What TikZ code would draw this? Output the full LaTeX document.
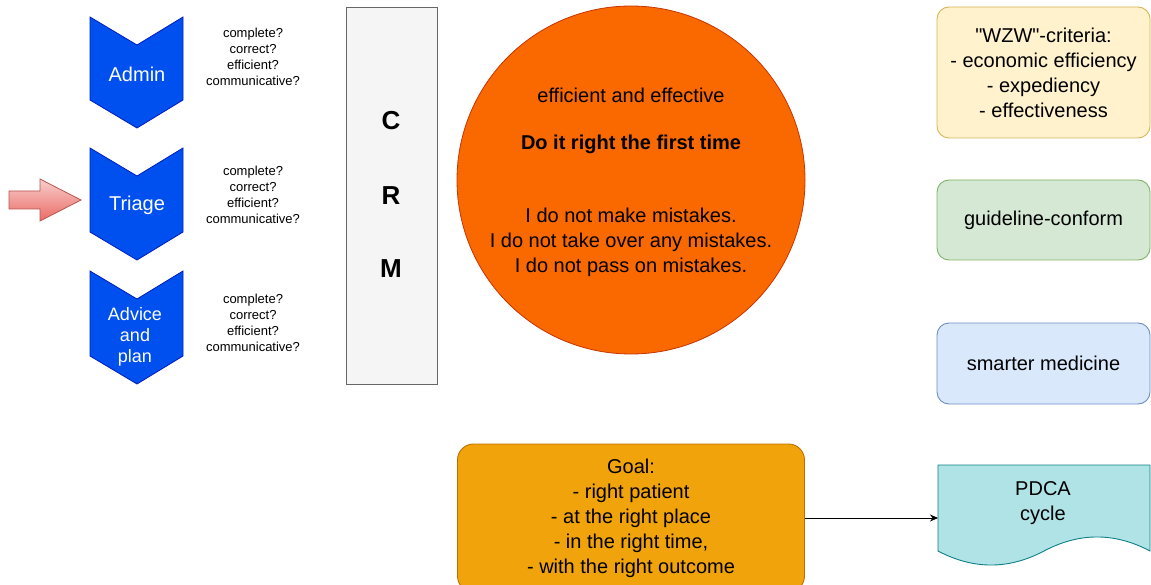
\documentclass[tikz,border=0pt]{standalone}
\usepackage{fontspec}
\setmainfont{Liberation Sans}
\newfontfamily\plainsans{Liberation Sans}
\usetikzlibrary{arrows.meta,shapes.geometric}
\definecolor{chevfill}{HTML}{0050EF}
\definecolor{chevline}{HTML}{001DBC}
\definecolor{redlight}{HTML}{F8CECC}
\definecolor{reddark}{HTML}{EA6B66}
\definecolor{redline}{HTML}{B85450}
\definecolor{crmfill}{HTML}{F5F5F5}
\definecolor{crmline}{HTML}{666666}
\definecolor{circfill}{HTML}{FA6800}
\definecolor{circline}{HTML}{C73500}
\definecolor{yelfill}{HTML}{FFF2CC}
\definecolor{yelline}{HTML}{D6B656}
\definecolor{grnfill}{HTML}{D5E8D4}
\definecolor{grnline}{HTML}{82B366}
\definecolor{blufill}{HTML}{DAE8FC}
\definecolor{bluline}{HTML}{6C8EBF}
\definecolor{goalfill}{HTML}{F0A30A}
\definecolor{goalline}{HTML}{BD7000}
\definecolor{docfill}{HTML}{B0E3E6}
\definecolor{docline}{HTML}{0E8088}
\tikzset{
  big/.style={font=\fontsize{20}{25}\selectfont, align=center, inner sep=0pt},
  small/.style={font=\fontsize{13}{16}\selectfont, align=center, inner sep=0pt},
  chev/.style={fill=chevfill, draw=chevline, line width=0.8pt},
  chevtext/.style={big, text=white},
  crmletter/.style={font=\fontsize{26}{30}\selectfont\bfseries, inner sep=0pt},
  rbox/.style={rounded corners=12pt, line width=0.9pt, minimum width=213pt, inner sep=0pt, big},
}
\begin{document}
\begin{tikzpicture}[x=1pt,y=-1pt]
\useasboundingbox (0,0) rectangle (1151,585);
% chevrons
\path[chev] (90,17) -- (137,45) -- (183,17) -- (183,100) -- (137,128) -- (90,100) -- cycle;
\node[chevtext] (admin) at (137,74) {Admin};
\path[chev] (90,148) -- (137,176) -- (183,148) -- (183,232) -- (137,260) -- (90,232) -- cycle;
\node[chevtext] (triage) at (137,205) {Triage};
\path[chev] (90,271) -- (137,299) -- (183,271) -- (183,356) -- (137,384) -- (90,356) -- cycle;
\node[chevtext, font=\fontsize{18}{21}\selectfont] (advice) at (135,337) {Advice\\and\\plan};
% check lists
\node[small] (q1) at (253,57) {complete?\\correct?\\efficient?\\communicative?};
\node[small] (q2) at (253,195) {complete?\\correct?\\efficient?\\communicative?};
\node[small] (q3) at (253,323) {complete?\\correct?\\efficient?\\communicative?};
% red arrow
\path[top color=redlight, bottom color=reddark, draw=redline, line width=0.8pt]
  (9,191) -- (40,191) -- (40,179) -- (81,200) -- (40,221) -- (40,209) -- (9,209) -- cycle;
% CRM
\node[fill=crmfill, draw=crmline, line width=0.8pt, minimum width=91pt, minimum height=377pt, inner sep=0pt] (crm) at (391.5,195.5) {};
\node[crmletter] (c) at (391,121) {C};
\node[crmletter] (r) at (391,196) {R};
\node[crmletter] (m) at (391,269) {M};
% circle
\node[circle, fill=circfill, draw=circline, line width=0.8pt, minimum size=348pt, inner sep=0pt] (circ) at (631,180) {};
\node[big] (eff) at (631,95) {efficient and effective};
\node[big, font=\fontsize{20}{25}\selectfont\bfseries] (doit) at (631,144) {Do it right the first time};
\node[big] (mist) at (631,242) {I do not make mistakes.\\I do not take over any mistakes.\\I do not pass on mistakes.};
% right boxes
\node[rbox, fill=yelfill, draw=yelline, minimum height=131pt] (wzw) at (1043.5,72.5) {{\plainsans "WZW"-criteria:}\\- economic efficiency\\- expediency\\- effectiveness};
\node[rbox, fill=grnfill, draw=grnline, minimum height=80pt] (guide) at (1043.5,220) {guideline-conform};
\node[rbox, fill=blufill, draw=bluline, minimum height=81pt] (smart) at (1043.5,363.5) {smarter medicine};
% goal
\node[rounded corners=16pt, fill=goalfill, draw=goalline, line width=0.9pt, minimum width=347pt, minimum height=148pt, inner sep=0pt] (goal) at (631,518) {};
\node[big] (goaltext) at (631,518) {Goal:\\- right patient\\- at the right place\\- in the right time,\\- with the right outcome};
% PDCA document
\path[fill=docfill, draw=docline, line width=0.9pt] (938,465) -- (1150,465) -- (1150,551)
  .. controls (1114.7,532.3) and (1079.3,532.3) .. (1044,551)
  .. controls (1008.7,569.7) and (973.3,569.7) .. (938,551) -- cycle;
\coordinate (pdcaW) at (938,518);
\node[big] (pdca) at (1043,503) {PDCA\\cycle};
% connector
\draw[line width=0.8pt, -{Stealth[length=8pt,width=7pt]}] (goal.east) -- (pdcaW);
\end{tikzpicture}
\end{document}
